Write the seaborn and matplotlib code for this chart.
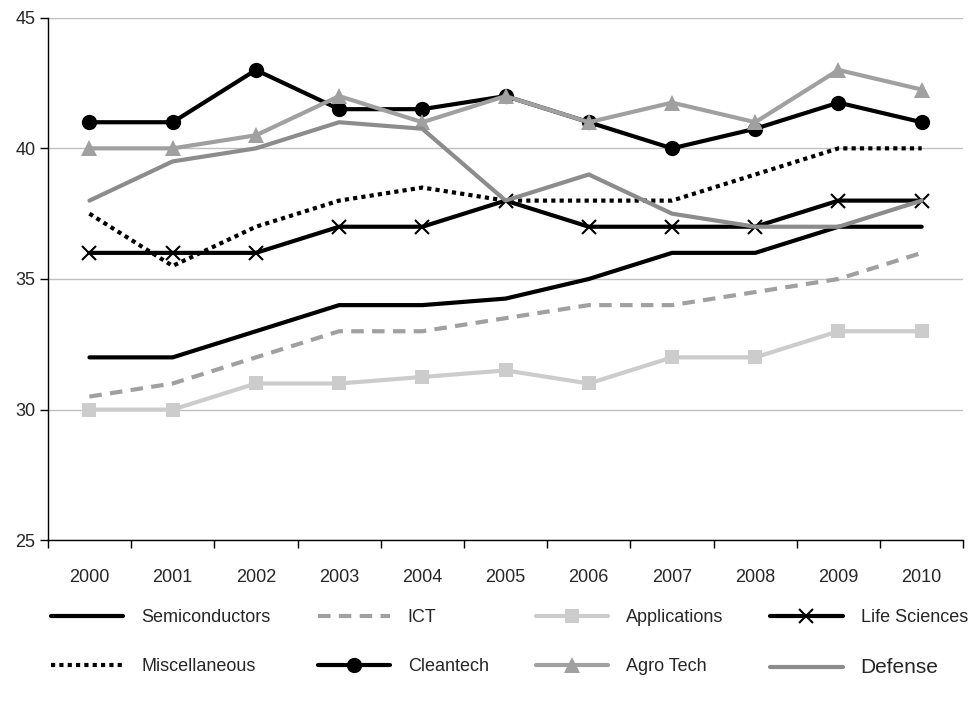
import numpy as np
import pandas as pd
import matplotlib
matplotlib.use("Agg")
import matplotlib.pyplot as plt
import seaborn as sns

# Data
years = ["2000", "2001", "2002", "2003", "2004", "2005", "2006", "2007", "2008", "2009", "2010"]
semiconductors = [32, 32, 33, 34, 34, 34.25, 35, 36, 36, 37, 37]
ict = [30.5, 31, 32, 33, 33, 33.5, 34, 34, 34.5, 35, 36]
applications = [30, 30, 31, 31, 31.25, 31.5, 31, 32, 32, 33, 33]
life_sciences = [36, 36, 36, 37, 37, 38, 37, 37, 37, 38, 38]
miscellaneous = [37.5, 35.5, 37, 38, 38.5, 38, 38, 38, 39, 40, 40]
cleantech = [41, 41, 43, 41.5, 41.5, 42, 41, 40, 40.75, 41.75, 41]
agro_tech = [40, 40, 40.5, 42, 41, 42, 41, 41.75, 41, 43, 42.25]
defense = [38, 39.5, 40, 41, 40.75, 38, 39, 37.5, 37, 37, 38]

series = {
    "Semiconductors": semiconductors,
    "ICT": ict,
    "Applications": applications,
    "Life Sciences": life_sciences,
    "Miscellaneous": miscellaneous,
    "Cleantech": cleantech,
    "Agro Tech": agro_tech,
    "Defense": defense,
}

# line styles per series: colour, linestyle, marker, marker size
styles = {
    "Semiconductors": ("#000000", "-", None, 0),
    "ICT": ("#a0a0a0", (0, (3, 2)), None, 0),
    "Applications": ("#cccccc", "-", "s", 10),
    "Life Sciences": ("#000000", "-", "x", 10),
    "Miscellaneous": ("#000000", (0, (1, 1)), None, 0),
    "Cleantech": ("#000000", "-", "o", 11),
    "Agro Tech": ("#a0a0a0", "-", "^", 11),
    "Defense": ("#8c8c8c", "-", None, 0),
}

sns.set_style("white")
plt.rcParams["font.family"] = ["Liberation Sans", "DejaVu Sans"]

fig = plt.figure(figsize=(9.76, 7.09), dpi=100)
ax = fig.add_axes([0.049, 0.238, 0.938, 0.737])

x = np.arange(len(years))
handles = {}
for name, vals in series.items():
    color, ls, marker, ms = styles[name]
    df = pd.DataFrame({"x": x, "y": vals})
    sns.lineplot(data=df, x="x", y="y", ax=ax, color=color, linewidth=3,
                 marker=marker, markersize=ms, markeredgecolor=color,
                 markeredgewidth=1.5 if marker == "x" else 0, label=name)
    handles[name] = ax.get_lines()[-1]
    handles[name].set_linestyle(ls)

ax.set_ylim(25, 45)
ax.set_xlim(-0.5, 10.5)
ax.set_yticks([25, 30, 35, 40, 45])
ax.yaxis.grid(True, color="#c0c0c0", linewidth=1)
ax.xaxis.grid(False)
ax.set_axisbelow(True)

# category boundaries as ticks, labels at centres
ax.set_xticks(np.arange(-0.5, 11, 1))
ax.set_xticklabels([])
ax.set_xticks(x, minor=True)
ax.set_xticklabels(years, minor=True)
ax.tick_params(axis="x", which="major", length=6, width=1, color="black", direction="out", bottom=True)
ax.tick_params(axis="x", which="minor", length=0, pad=21, labelsize=13)
ax.tick_params(axis="y", length=6, width=1, color="black", direction="out", left=True, labelsize=13, pad=3)
ax.set_xlabel("")
ax.set_ylabel("")

for s in ["top", "right"]:
    ax.spines[s].set_visible(False)
for s in ["left", "bottom"]:
    ax.spines[s].set_color("black")
    ax.spines[s].set_linewidth(1)

ax.get_legend().remove()
order = ["Semiconductors", "Miscellaneous", "ICT", "Cleantech",
         "Applications", "Agro Tech", "Life Sciences", "Defense"]
leg = fig.legend([handles[n] for n in order], order, loc="center", ncol=4,
                 bbox_to_anchor=(0.522, 0.093), frameon=False, fontsize=13,
                 handlelength=4.0, columnspacing=2.6, labelspacing=1.75, handletextpad=1.0)
# "Defense" is set a bit larger in the original
for t in leg.get_texts():
    if t.get_text() == "Defense":
        t.set_fontsize(15)

fig.savefig("out.png", dpi=100)
